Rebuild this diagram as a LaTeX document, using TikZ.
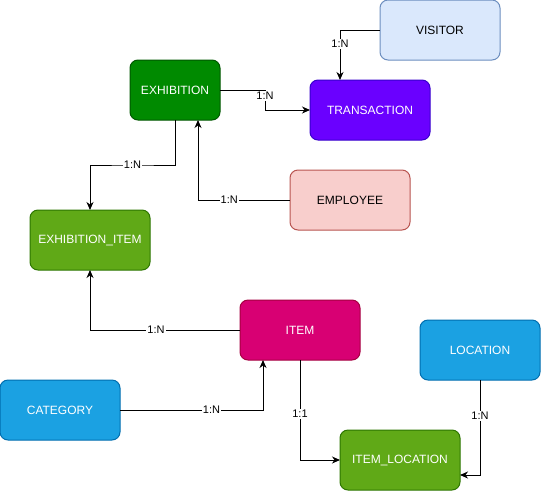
\documentclass[tikz,border=0pt]{standalone}
\usepackage{fontspec}
\setmainfont{Liberation Sans}
\usepackage{xcolor}
\usetikzlibrary{arrows.meta, positioning, calc}

\definecolor{visitorfill}{HTML}{DAE8FC}
\definecolor{visitordraw}{HTML}{6C8EBF}
\definecolor{exhibfill}{HTML}{008A00}
\definecolor{exhibdraw}{HTML}{005700}
\definecolor{transfill}{HTML}{6A00FF}
\definecolor{transdraw}{HTML}{3700CC}
\definecolor{emplfill}{HTML}{F8CECC}
\definecolor{empldraw}{HTML}{B85450}
\definecolor{limefill}{HTML}{60A917}
\definecolor{limedraw}{HTML}{2D7600}
\definecolor{itemfill}{HTML}{D80073}
\definecolor{itemdraw}{HTML}{A50040}
\definecolor{bluefill}{HTML}{1BA1E2}
\definecolor{bluedraw}{HTML}{006EAF}

\begin{document}
\begin{tikzpicture}[
    x=1pt, y=-1pt,
    box/.style={draw, rounded corners=8pt, minimum width=120pt, minimum height=60pt, inner sep=0pt, outer sep=0pt, align=center, font=\fontsize{12}{14}\selectfont, line width=1pt},
    dark/.style={box, text=white},
    arrow/.style={-{Stealth[length=8pt, width=7pt, inset=2.5pt]}, line width=1pt},
    lbl/.style={fill=white, inner sep=1pt, font=\fontsize{11}{13}\selectfont}
]
    \useasboundingbox (0,0) rectangle (541,491);
    \node[box, fill=visitorfill, draw=visitordraw] at (440,30) (visitor) {VISITOR};
    \node[dark, fill=exhibfill, draw=exhibdraw, minimum width=90pt] at (175,90) (exhib) {EXHIBITION};
    \node[dark, fill=transfill, draw=transdraw] at (370,110) (trans) {TRANSACTION};
    \node[box, fill=emplfill, draw=empldraw] at (350,200) (employee) {EMPLOYEE};
    \node[dark, fill=limefill, draw=limedraw] at (90,240) (exitem) {EXHIBITION\_ITEM};
    \node[dark, fill=itemfill, draw=itemdraw] at (300,330) (item) {ITEM};
    \node[dark, fill=bluefill, draw=bluedraw] at (480,350) (location) {LOCATION};
    \node[dark, fill=bluefill, draw=bluedraw] at (60,410) (category) {CATEGORY};
    \node[dark, fill=limefill, draw=limedraw] at (400,460) (itemloc) {ITEM\_LOCATION};

    \draw[arrow] (visitor.west) -| node[lbl, pos=0.64] {1:N} ([xshift=-30pt]trans.north);
    \draw[arrow] (exhib.east) -- ++(45,0) |- node[lbl, pos=0.15] {1:N} (trans.west);
    \coordinate (mid) at ($(exhib.south)!0.5!(exitem.north)$);
    \draw[arrow] (exhib.south) |- (mid) -| (exitem.north);
    \node[lbl] at (mid) {1:N};
    \draw[arrow] (employee.west) -| node[lbl, pos=0.33] {1:N} ([xshift=23pt]exhib.south);
    \draw[arrow] (item.west) -| node[lbl, pos=0.28] {1:N} (exitem.south);
    \draw[arrow] (category.east) -| node[lbl, pos=0.32] {1:N} ([xshift=-37pt]item.south);
    \draw[arrow] (item.south) |- node[lbl, pos=0.27] {1:1} (itemloc.west);
    \draw[arrow] (location.south) |- node[lbl, pos=0.19] {1:N} ([yshift=-15pt]itemloc.east);
\end{tikzpicture}
\end{document}
